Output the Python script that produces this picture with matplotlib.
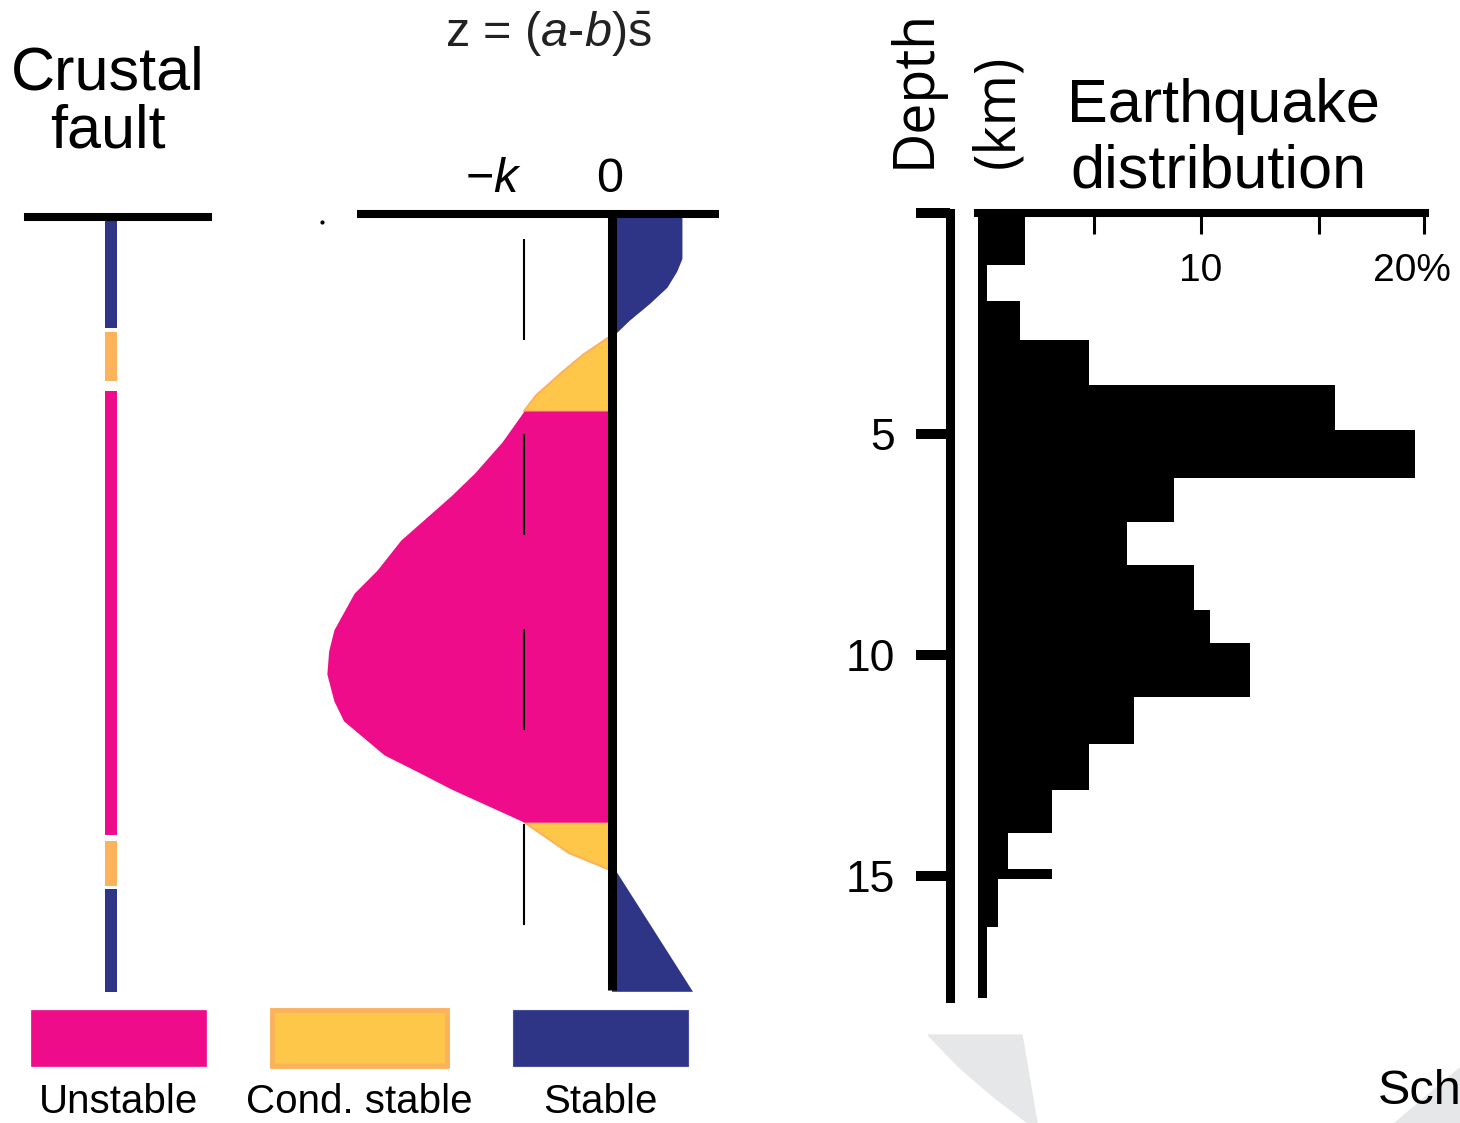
import numpy as np
import matplotlib
matplotlib.use("Agg")
from matplotlib import pyplot as plt
from matplotlib.patches import Polygon
from matplotlib.transforms import ScaledTranslation

plt.rcParams['font.family'] = 'Liberation Sans'
plt.rcParams['mathtext.fontset'] = 'custom'
plt.rcParams['mathtext.rm'] = 'Liberation Sans'
plt.rcParams['mathtext.it'] = 'Liberation Sans:italic'

#colours
PINK = '#EE0C8A'
YELLOW = '#FEC74A'
ORANGE = '#FBB25C'
BLUE = '#2E3486'

#left column: stability zones along the fault (depth, km)
zone_top = [0.16, 2.69, 4.03, 14.21, 15.29]
zone_bot = [2.60, 3.80, 14.07, 15.23, 17.62]
zone_kind = ['stable', 'cond', 'unstable', 'cond', 'stable']

#middle: z = (a-b)s profile against depth, in units of k
prof_depth = [0.10, 1.04, 1.33, 1.69, 2.06, 2.44, 2.71, 2.78, 2.83, 3.21, 3.59,
              4.12, 4.48, 5.18, 5.88, 6.40, 7.40, 8.08, 8.60, 9.43, 9.91, 10.43,
              11.04, 11.49, 12.26, 12.65, 13.03, 13.78, 14.48, 14.84, 14.88,
              14.93, 17.62]
prof_z = [0.80, 0.80, 0.74, 0.63, 0.43, 0.20, 0.06, 0.00, -0.05, -0.33, -0.56,
          -0.86, -1.00, -1.25, -1.56, -1.83, -2.40, -2.67, -2.93, -3.16, -3.22, -3.24,
          -3.16, -3.05, -2.59, -2.20, -1.83, -1.00, -0.49, -0.05, 0.00,
          0.06, 0.92]
k_val = 1.0

#right: earthquake distribution with depth
bin_edges = [0, 1.18, 1.99, 2.87, 3.89, 4.91, 6.00, 6.99, 7.96, 8.98, 9.73,
             10.95, 12.01, 13.05, 14.03, 14.95, 16.15, 17.76]
quake_pct = [2.1, 0.3, 1.9, 5.0, 16.0, 19.6, 8.8, 6.7, 9.7, 10.4, 12.2,
             7.0, 5.0, 3.3, 1.35, 0.9, 0.3]
depth_ticks = [0, 5, 10, 15]
depth_labels = ['', '5', '10', '15']
pct_ticks = [5.2, 10, 15.3, 20]
pct_labels = ['', '10', '', '20%']

legend_names = ['Unstable', 'Cond. stable', 'Stable']

W, H = 1460, 1123
d_max = 17.9
ax_bottom = 1 - (213 + 44.2 * d_max) / H
ax_height = 44.2 * d_max / H

def px(x, y):
    return (x / W, 1 - y / H)

fig = plt.figure(figsize=(W / 100, H / 100), dpi=100)

#background decorations
fig.add_artist(Polygon([px(928, 1035), px(1022, 1035), px(1037, 1123), px(1028, 1123),
                        px(995, 1098), px(960, 1068)], closed=True,
                       transform=fig.transFigure, color='#E6E7E8', zorder=0))
fig.add_artist(Polygon([px(1395, 1123), px(1460, 1068), px(1460, 1123)], closed=True,
                       transform=fig.transFigure, color='#E6E7E8', zorder=0))

#left panel: crustal fault column
ax1 = fig.add_axes([28 / W, ax_bottom, 180 / W, ax_height])
col_colors = {'stable': BLUE, 'cond': '#FCB35B', 'unstable': PINK}
ax1.bar([0.46] * len(zone_top), np.array(zone_bot) - np.array(zone_top),
        bottom=zone_top, width=0.067, color=[col_colors[k] for k in zone_kind], lw=0)
ax1.axhline(0.09, color='black', lw=5.8, clip_on=False)
ax1.set_xlim(0, 1)
ax1.set_ylim(d_max, 0)
ax1.set_axis_off()

#middle panel: z profile
ax2 = fig.add_axes([320 / W, ax_bottom, 400 / W, ax_height])
pd_ = np.array(prof_depth)
pz = np.array(prof_z)
ax2.fill_betweenx(pd_, pz, 0, where=(pz >= -k_val) & (pz <= 0),
                  facecolor=YELLOW, edgecolor=ORANGE, lw=1.5)
ax2.fill_betweenx(pd_, pz, 0, where=pz <= -k_val, color=PINK, lw=0)
ax2.fill_betweenx(pd_, pz, 0, where=pz >= 0, color=BLUE, lw=0)
ax2.plot([-k_val, -k_val], [0.59, 16.18], color='black', lw=1.5, dashes=(48.5, 45.1))
ax2.vlines(0, 0.02, 17.58, color='black', lw=6.5)
ax2.hlines(0.02, -2.9, 1.22, color='black', lw=5.8, clip_on=False)
ax2.plot(-3.3, 0.2, 'o', color='black', markersize=2)
ax2.text(-0.03, -0.475, '0', ha='center', va='baseline', fontsize=35)
ax2.text(-1.02, -0.475, r'$-k$', ha='right', va='baseline', fontsize=35)
ax2.set_xlim(-3.318, 1.227)
ax2.set_ylim(d_max, 0)
ax2.set_axis_off()

#right panel: earthquake histogram
ax3 = fig.add_axes([978 / W, ax_bottom, 452 / W, ax_height])
ax3.barh(bin_edges[:-1], quake_pct, height=np.diff(bin_edges), align='edge',
         color='black', lw=0)
ax3.vlines(0.18, 0, bin_edges[-1], color='black', lw=7.2)
ax3.hlines(14.95, 0, 3.3, color='black', lw=7.2)
ax3.set_xlim(0, 20.27)
ax3.set_ylim(d_max, 0)
ax3.spines['right'].set_visible(False)
ax3.spines['bottom'].set_visible(False)
ax3.spines['top'].set_linewidth(5.8)
ax3.spines['top'].set_bounds(0, 20.05)
ax3.spines['left'].set_position(('outward', 20))
ax3.spines['left'].set_linewidth(6.5)
ax3.spines['left'].set_bounds(0, bin_edges[-1])
ax3.xaxis.tick_top()
ax3.set_xticks(pct_ticks)
ax3.set_xticklabels(pct_labels)
ax3.tick_params(axis='x', direction='in', length=15, width=2.2, pad=-55, labelsize=28)
ax3.set_yticks(depth_ticks)
ax3.set_yticklabels(depth_labels)
ax3.tick_params(axis='y', direction='out', length=24.5, width=7.2, pad=15, labelsize=32)
ax3.patch.set_visible(False)
#"20%" sits a little left of its tick in the original
last = ax3.xaxis.get_major_ticks()[-1].label2
last.set_transform(last.get_transform() + ScaledTranslation(-0.12, 0, fig.dpi_scale_trans))

#legend
axL = fig.add_axes([0, 0, 723 / W, 123 / H])
leg_x = np.arange(len(legend_names)) + 0.49
axL.bar(leg_x, 0.456, bottom=0.081, width=0.726, color=[PINK, YELLOW, BLUE],
        edgecolor=[PINK, ORANGE, '#4B4F99'], linewidth=[0.5, 3.5, 0.8])
for x, name in zip(leg_x, legend_names):
    axL.text(x, 0.915, name, ha='center', va='baseline', fontsize=29)
axL.set_xlim(0, 3)
axL.set_ylim(1, 0)
axL.set_axis_off()

#titles
fig.text(*px(108, 90), 'Crustal', ha='center', va='baseline', fontsize=44)
fig.text(*px(108, 147), 'fault', ha='center', va='baseline', fontsize=44)
fig.text(*px(445, 47), r'z = ($a$-$b$)$\bar{\mathrm{s}}$', ha='left', va='baseline',
         fontsize=35, color='#222222')
fig.text(*px(1067, 122), 'Earthquake', ha='left', va='baseline', fontsize=44)
fig.text(*px(1070, 188), 'distribution', ha='left', va='baseline', fontsize=44)
fig.text(*px(930, 168), 'Depth', rotation=90, rotation_mode='anchor', ha='left',
         va='baseline', fontsize=40, family='Open Sans')
fig.text(*px(1013, 168), '(km)', rotation=90, rotation_mode='anchor', ha='left',
         va='baseline', fontsize=40, family='Open Sans')
fig.text(*px(1378, 1104), 'Sch', ha='left', va='baseline', fontsize=35)

fig.savefig('out.png', dpi=100)
